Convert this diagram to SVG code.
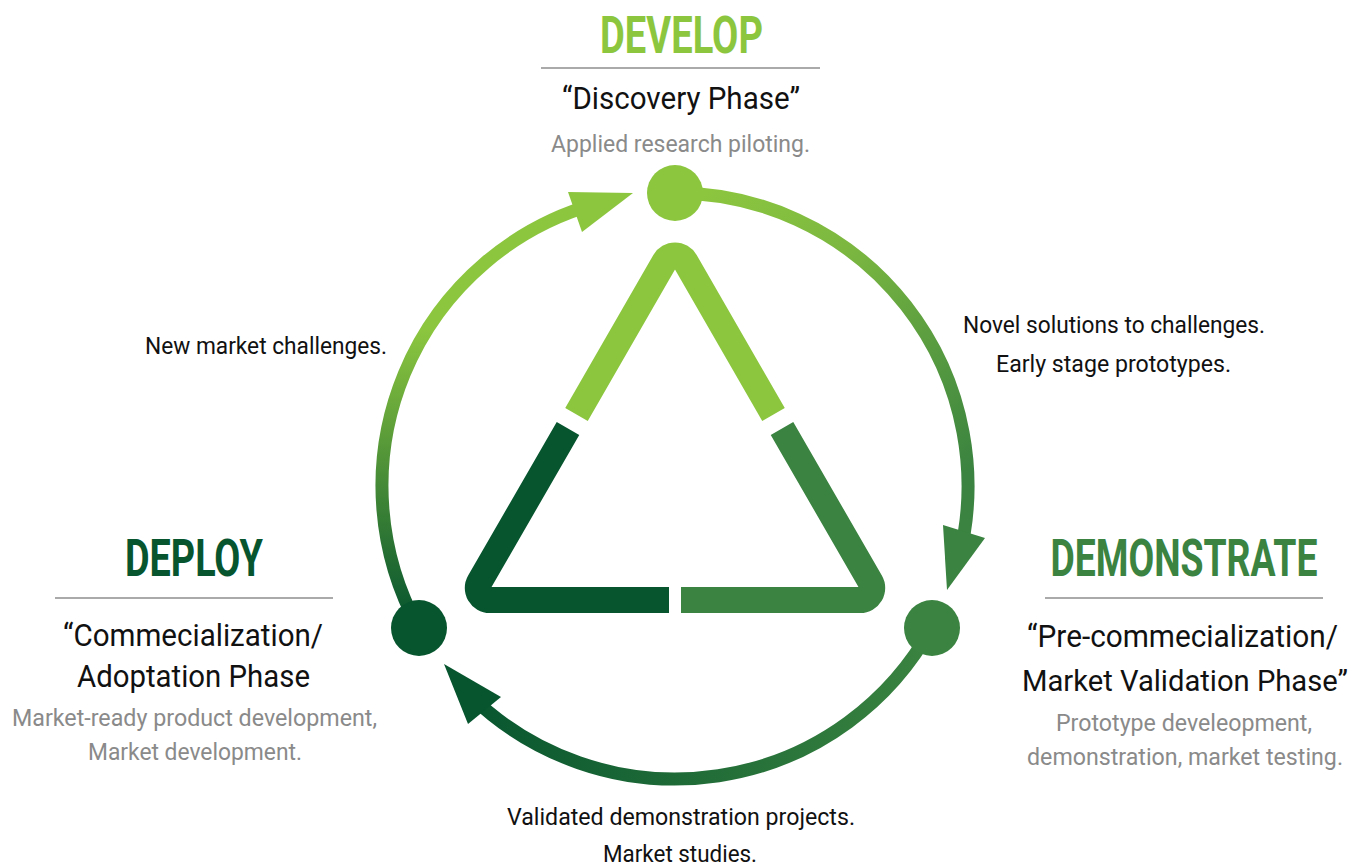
<svg xmlns="http://www.w3.org/2000/svg" width="1359" height="867" viewBox="0 0 1359 867">
<style>
.title{font-family:Roboto,"Liberation Sans",sans-serif;font-weight:700;font-size:52px}
.phase{font-family:Roboto,"Liberation Sans",sans-serif;font-size:31px;fill:#111}
.desc{font-family:Roboto,"Liberation Sans",sans-serif;font-size:23px;fill:#8a8a8a}
.lbl{font-family:Roboto,"Liberation Sans",sans-serif;font-size:24px;fill:#111}
.rule{stroke:#aaaaaa;stroke-width:2}
.arc{fill:none;stroke-width:13}
.tri{fill:none;stroke-width:26;stroke-linecap:butt}
</style>
<defs>
<linearGradient id="g1" gradientUnits="userSpaceOnUse" x1="700" y1="200" x2="960" y2="480">
<stop offset="0" stop-color="#8cc63f"/><stop offset="0.35" stop-color="#7cb840"/><stop offset="1" stop-color="#3a8340"/>
</linearGradient>
<linearGradient id="g2" gradientUnits="userSpaceOnUse" x1="930" y1="0" x2="460" y2="0">
<stop offset="0" stop-color="#3a8340"/><stop offset="1" stop-color="#07552f"/>
</linearGradient>
<linearGradient id="g3" gradientUnits="userSpaceOnUse" x1="0" y1="620" x2="0" y2="330">
<stop offset="0" stop-color="#07552f"/><stop offset="1" stop-color="#8cc63f"/>
</linearGradient>
</defs>

<g id="connectors">
<path class="arc" stroke="url(#g1)" d="M675 193 A293 293 0 0 1 959.3 556.9"/>
<polygon points="947,590 943,525 985,538" fill="#3a8340"/>
<path class="arc" stroke="url(#g2)" stroke-width="15" d="M931.5 627.6 A293 293 0 0 1 471.5 696.8"/>
<polygon points="444,664 468,724 501,697" fill="#07552f"/>
<path class="arc" stroke="url(#g3)" d="M418.5 627.6 A293 293 0 0 1 594.2 204.3"/>
<polygon points="633,193 568,192 582,232" fill="#8cc63f"/>
</g>

<g id="triangle">
<path class="tri" stroke="#8cc63f" d="M576.5 414.5 L664.6 261.5 A12 12 0 0 1 685.4 261.5 L773.5 414.5"/>
<path class="tri" stroke="#07552f" d="M568 428.5 L479.4 582 A12 12 0 0 0 489.8 600 L669 600"/>
<path class="tri" stroke="#3a8340" d="M681 600 L860.2 600 A12 12 0 0 0 870.6 582 L782 428.5"/>
</g>

<g id="develop">
<circle cx="675" cy="193" r="28" fill="#8cc63f"/>
<text class="title" fill="#8cc63f" x="600" y="53" textLength="163" lengthAdjust="spacingAndGlyphs">DEVELOP</text>
<line class="rule" x1="541" y1="68" x2="820" y2="68"/>
<text class="phase" x="562" y="109" textLength="238" lengthAdjust="spacingAndGlyphs">“Discovery Phase”</text>
<text class="desc" x="551" y="152" textLength="259" lengthAdjust="spacingAndGlyphs">Applied research piloting.</text>
</g>

<g id="demonstrate">
<circle cx="932" cy="628" r="28" fill="#3a8340"/>
<text class="title" fill="#3a8340" transform="translate(1184 576) scale(0.718 1)" x="0" y="0" text-anchor="middle">DEMONSTRATE</text>
<line class="rule" x1="1045" y1="598" x2="1323" y2="598"/>
<text class="phase" x="1027" y="647" textLength="311" lengthAdjust="spacingAndGlyphs">“Pre-commecialization/</text>
<text class="phase" x="1185" y="691" text-anchor="middle" style="font-size:30px" textLength="326" lengthAdjust="spacingAndGlyphs">Market Validation Phase”</text>
<text class="desc" x="1056" y="731" textLength="256" lengthAdjust="spacingAndGlyphs">Prototype develeopment,</text>
<text class="desc" x="1027" y="765" textLength="316" lengthAdjust="spacingAndGlyphs">demonstration, market testing.</text>
</g>

<g id="deploy">
<circle cx="419" cy="628" r="28" fill="#07552f"/>
<text class="title" fill="#07552f" x="125" y="576" textLength="138" lengthAdjust="spacingAndGlyphs">DEPLOY</text>
<line class="rule" x1="55" y1="598" x2="333" y2="598"/>
<text class="phase" x="63" y="646" textLength="260" lengthAdjust="spacingAndGlyphs">“Commecialization/</text>
<text class="phase" x="77" y="687" textLength="233" lengthAdjust="spacingAndGlyphs">Adoptation Phase</text>
<text class="desc" x="12" y="726" textLength="365" lengthAdjust="spacingAndGlyphs">Market-ready product development,</text>
<text class="desc" x="88" y="760" textLength="214" lengthAdjust="spacingAndGlyphs">Market development.</text>
</g>

<g id="labels">
<text class="lbl" x="963" y="333" textLength="302" lengthAdjust="spacingAndGlyphs">Novel solutions to challenges.</text>
<text class="lbl" x="996" y="372" textLength="235" lengthAdjust="spacingAndGlyphs">Early stage prototypes.</text>
<text class="lbl" x="145" y="354" textLength="242" lengthAdjust="spacingAndGlyphs">New market challenges.</text>
<text class="lbl" x="507" y="825" textLength="348" lengthAdjust="spacingAndGlyphs">Validated demonstration projects.</text>
<text class="lbl" x="603" y="862" textLength="154" lengthAdjust="spacingAndGlyphs">Market studies.</text>
</g>
</svg>
